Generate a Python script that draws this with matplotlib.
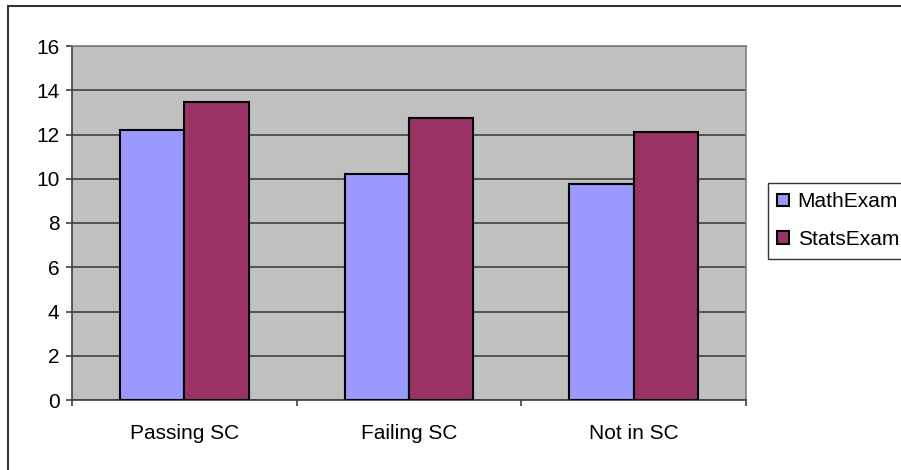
import numpy as np
import matplotlib.pyplot as plt
from matplotlib.patches import Rectangle

# --- Data ---
categories = ["Passing SC", "Failing SC", "Not in SC"]
math_exam = [12.2, 10.2, 9.75]
stats_exam = [13.45, 12.75, 12.1]
series_names = ["MathExam", "StatsExam"]
y_ticks = [0, 2, 4, 6, 8, 10, 12, 14, 16]

plt.rcParams["font.family"] = ["Liberation Sans", "DejaVu Sans"]

W, H = 901, 470
fig = plt.figure(figsize=(W / 100, H / 100), dpi=100)

# plot area in pixel coords: left 72, right 746, top 46, bottom 400
ax = fig.add_axes([72 / W, 1 - 400 / H, (746 - 72) / W, (400 - 46) / H])
ax.set_facecolor("#C0C0C0")

x = np.arange(len(categories))
bw = 0.286
b1 = ax.bar(x - bw / 2, math_exam, bw, color="#9999FF", edgecolor="black",
            linewidth=1.5, zorder=3, label=series_names[0])
b2 = ax.bar(x + bw / 2, stats_exam, bw, color="#993366", edgecolor="black",
            linewidth=1.5, zorder=3, label=series_names[1])

ax.set_xlim(-0.5, len(categories) - 0.5)
ax.set_ylim(0, 16)
ax.set_yticks(y_ticks)
ax.yaxis.grid(True, color="#404040", linewidth=1.2, zorder=1)

# category labels centred, tick marks on the category boundaries
ax.set_xticks(x)
ax.set_xticklabels(categories, fontsize=15)
ax.set_xticks(np.arange(-0.5, len(categories)), minor=True)
ax.tick_params(axis="x", which="major", length=0, pad=17)
ax.tick_params(axis="x", which="minor", length=4, width=1.2, color="#404040")
ax.tick_params(axis="y", length=4, width=1.2, color="#404040", labelsize=15, pad=5)

for side in ["top", "right"]:
    ax.spines[side].set_color("#808080")
    ax.spines[side].set_linewidth(1.2)
for side in ["left", "bottom"]:
    ax.spines[side].set_color("#404040")
    ax.spines[side].set_linewidth(1.2)

leg = fig.legend(handles=[b1, b2], loc="upper left",
                 bbox_to_anchor=(768 / W, 1 - 183 / H), fontsize=15,
                 frameon=True, fancybox=False, shadow=False,
                 handlelength=0.55, handleheight=0.55, handletextpad=0.42,
                 borderpad=0.45, labelspacing=0.9, borderaxespad=0)
leg.get_frame().set_edgecolor("black")
leg.get_frame().set_linewidth(1.0)

# chart border
fig.patches.append(Rectangle((8 / W, -0.1), 1.2, 1.1 - 6 / H,
                             transform=fig.transFigure, fill=False,
                             edgecolor="#333333", linewidth=1.5))

fig.savefig("out.png", dpi=100)
